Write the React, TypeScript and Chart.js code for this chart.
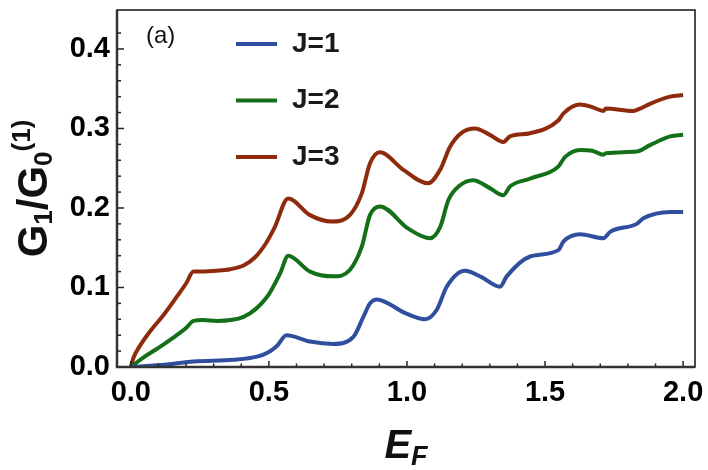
import { useEffect, useRef } from "react";
import { Chart, registerables, type Plugin } from "chart.js";

Chart.register(...registerables);

const j1X = [0.0, 0.13, 0.227, 0.372, 0.457, 0.5, 0.528, 0.564, 0.649, 0.733, 0.806, 0.842, 0.866, 0.89, 0.998, 1.065, 1.108, 1.144, 1.21, 1.27, 1.337, 1.361, 1.446, 1.548, 1.567, 1.627, 1.712, 1.736, 1.832, 1.856, 1.953, 2.0];
const j1Y = [0, 0.003, 0.007, 0.009, 0.013, 0.019, 0.026, 0.04, 0.032, 0.029, 0.038, 0.063, 0.08, 0.085, 0.067, 0.06, 0.072, 0.101, 0.121, 0.113, 0.101, 0.114, 0.139, 0.147, 0.158, 0.167, 0.162, 0.17, 0.18, 0.187, 0.195, 0.195];

const j2X = [0.0, 0.05, 0.1, 0.15, 0.2, 0.227, 0.26, 0.312, 0.408, 0.493, 0.541, 0.57, 0.649, 0.733, 0.793, 0.836, 0.866, 0.902, 1.005, 1.083, 1.12, 1.15, 1.19, 1.24, 1.3, 1.349, 1.373, 1.446, 1.548, 1.572, 1.627, 1.67, 1.712, 1.72, 1.832, 1.88, 1.953, 2.0];
const j2Y = [0, 0.013, 0.024, 0.036, 0.049, 0.058, 0.059, 0.058, 0.063, 0.088, 0.118, 0.14, 0.12, 0.114, 0.122, 0.151, 0.191, 0.202, 0.174, 0.162, 0.176, 0.21, 0.228, 0.235, 0.225, 0.216, 0.227, 0.237, 0.252, 0.264, 0.273, 0.272, 0.267, 0.269, 0.271, 0.279, 0.29, 0.292];

const j3X = [0.0, 0.01, 0.03, 0.07, 0.12, 0.17, 0.2, 0.227, 0.26, 0.31, 0.36, 0.41, 0.45, 0.49, 0.52, 0.57, 0.649, 0.727, 0.793, 0.836, 0.866, 0.902, 0.987, 1.077, 1.12, 1.156, 1.2, 1.246, 1.3, 1.349, 1.373, 1.446, 1.548, 1.567, 1.627, 1.669, 1.712, 1.72, 1.82, 1.844, 1.88, 1.953, 2.0];
const j3Y = [0, 0.012, 0.025, 0.045, 0.066, 0.09, 0.105, 0.12, 0.12, 0.121, 0.123, 0.128, 0.138, 0.156, 0.175, 0.212, 0.191, 0.183, 0.191, 0.218, 0.256, 0.27, 0.248, 0.231, 0.248, 0.277, 0.295, 0.3, 0.292, 0.283, 0.29, 0.294, 0.31, 0.319, 0.33, 0.327, 0.322, 0.325, 0.322, 0.325, 0.331, 0.34, 0.342];

const seriesLabels = ["J=1", "J=2", "J=3"];
const seriesColors = ["#2f4f9e", "#137019", "#8e2b0d"];

const xTicks = [0, 0.5, 1.0, 1.5, 2.0];
const yTicks = [0, 0.1, 0.2, 0.3, 0.4];
const xMinorStep = 0.1;
const yMinorStep = 0.02;

const FONT = "'Liberation Sans', Arial, sans-serif";

const pairs = (xs: number[], ys: number[]) => xs.map((x, i) => ({ x, y: ys[i] }));

const decorations: Plugin<"line"> = {
  id: "decorations",
  afterDraw(chart) {
    const { ctx, chartArea: a } = chart;
    const xs = chart.scales.x;
    const ys = chart.scales.y;
    ctx.save();

    // inward ticks
    ctx.strokeStyle = "#222";
    ctx.lineWidth = 1.5;
    for (let v = 0; v <= 2.0001; v += xMinorStep) {
      const px = xs.getPixelForValue(v);
      const major = xTicks.some((t) => Math.abs(t - v) < 1e-6);
      ctx.beginPath();
      ctx.moveTo(px, a.bottom);
      ctx.lineTo(px, a.bottom - (major ? 6 : 3.5));
      ctx.stroke();
    }
    for (let v = 0; v <= 0.44; v += yMinorStep) {
      const py = ys.getPixelForValue(v);
      const major = yTicks.some((t) => Math.abs(t - v) < 1e-6);
      ctx.beginPath();
      ctx.moveTo(a.left, py);
      ctx.lineTo(a.left + (major ? 7 : 4), py);
      ctx.stroke();
    }

    // frame
    ctx.strokeStyle = "#111";
    ctx.lineWidth = 1.5;
    ctx.strokeRect(a.left, a.top, a.right - a.left, a.bottom - a.top);
    ctx.strokeStyle = "#333";
    ctx.lineWidth = 2.5;
    ctx.beginPath();
    ctx.moveTo(a.left, a.top);
    ctx.lineTo(a.left, a.bottom);
    ctx.lineTo(a.right, a.bottom);
    ctx.stroke();

    // legend
    ctx.lineWidth = 4;
    ctx.textBaseline = "middle";
    ctx.textAlign = "left";
    seriesLabels.forEach((label, i) => {
      const y = 44 + i * 56.5;
      ctx.strokeStyle = seriesColors[i];
      ctx.beginPath();
      ctx.moveTo(236, y);
      ctx.lineTo(277, y);
      ctx.stroke();
      ctx.fillStyle = "#1a1a1a";
      ctx.font = `bold 28px ${FONT}`;
      ctx.fillText(label, 292, y);
    });

    // panel tag
    ctx.fillStyle = "#111";
    ctx.font = `24px ${FONT}`;
    ctx.fillText("(a)", 146, 36);

    // x title: E_F
    ctx.textBaseline = "alphabetic";
    ctx.font = `italic bold 40px ${FONT}`;
    const eW = ctx.measureText("E").width;
    ctx.font = `italic bold 27px ${FONT}`;
    const fW = ctx.measureText("F").width;
    const x0 = (a.left + a.right) / 2 - (eW + fW) / 2;
    ctx.font = `italic bold 40px ${FONT}`;
    ctx.fillText("E", x0, 458);
    ctx.font = `italic bold 27px ${FONT}`;
    ctx.fillText("F", x0 + eW, 465);

    // y title: G_1/G_0^(1)
    const parts: [string, number, number][] = [
      ["G", 42, 0],
      ["1", 26, 5],
      ["/", 42, 0],
      ["G", 42, 0],
      ["0", 26, 5],
      ["(1)", 26, -17],
    ];
    let total = 0;
    const widths = parts.map(([t, s]) => {
      ctx.font = `bold ${s}px ${FONT}`;
      const w = ctx.measureText(t).width;
      total += w;
      return w;
    });
    ctx.translate(47, (a.top + a.bottom) / 2);
    ctx.rotate(-Math.PI / 2);
    let cx = -total / 2;
    parts.forEach(([t, s, dy], i) => {
      ctx.font = `bold ${s}px ${FONT}`;
      ctx.fillText(t, cx, dy);
      cx += widths[i];
    });
    ctx.restore();
  },
};

export default function App() {
  const canvasRef = useRef<HTMLCanvasElement>(null);

  useEffect(() => {
    document.body.style.margin = "0";
    if (!canvasRef.current) return;

    const chart = new Chart(canvasRef.current, {
      type: "line",
      data: {
        datasets: [
          { label: seriesLabels[0], data: pairs(j1X, j1Y) },
          { label: seriesLabels[1], data: pairs(j2X, j2Y) },
          { label: seriesLabels[2], data: pairs(j3X, j3Y) },
        ].map((d, i) => ({
          ...d,
          borderColor: seriesColors[i],
          borderWidth: 4,
          pointRadius: 0,
          cubicInterpolationMode: "monotone" as const,
          fill: false,
        })),
      },
      options: {
        animation: false,
        responsive: false,
        layout: { padding: { left: 0, right: 13, top: 10, bottom: 0 } },
        plugins: {
          legend: { display: false },
          tooltip: { enabled: false },
        },
        scales: {
          x: {
            type: "linear",
            min: -0.05,
            max: 2.043,
            afterBuildTicks: (scale) => {
              scale.ticks = xTicks.map((value) => ({ value }));
            },
            afterFit: (scale) => {
              scale.height = 103;
              scale.paddingLeft = 0;
              scale.paddingRight = 0;
            },
            grid: { display: false, drawTicks: false },
            border: { display: false },
            ticks: {
              color: "#000",
              font: { family: FONT, size: 29, weight: "bold" },
              padding: 9,
              maxRotation: 0,
              callback: (v) => Number(v).toFixed(1),
            },
          },
          y: {
            type: "linear",
            min: 0,
            max: 0.449,
            afterBuildTicks: (scale) => {
              scale.ticks = yTicks.map((value) => ({ value }));
            },
            afterFit: (scale) => {
              scale.width = 117;
              scale.paddingTop = 0;
              scale.paddingBottom = 0;
            },
            grid: { display: false, drawTicks: false },
            border: { display: false },
            ticks: {
              color: "#000",
              font: { family: FONT, size: 29, weight: "bold" },
              padding: 7,
              callback: (v) => Number(v).toFixed(1),
            },
          },
        },
      },
      plugins: [decorations],
    });

    return () => {
      chart.destroy();
    };
  }, []);

  return (
    <div style={{ width: 708, height: 470, background: "#fff" }}>
      <canvas ref={canvasRef} width={708} height={470} />
    </div>
  );
}
